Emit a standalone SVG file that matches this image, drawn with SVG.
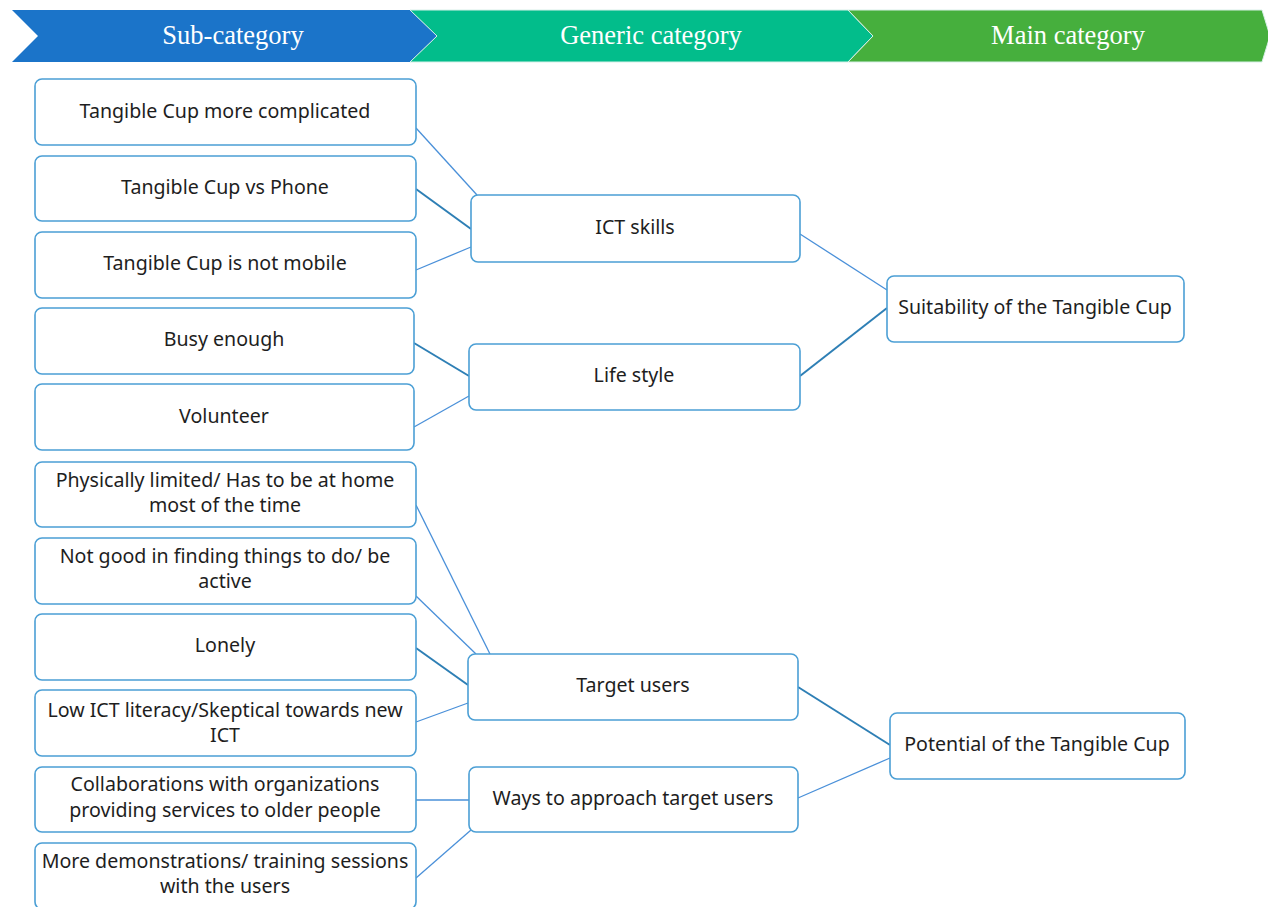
<svg xmlns="http://www.w3.org/2000/svg" width="1268" height="907" viewBox="0 0 1268 907">
<style>
.hdr{font-family:"Liberation Serif","DejaVu Serif",serif;font-size:26.5px;fill:#ffffff;text-anchor:middle}
.box{fill:#ffffff;stroke:#4b9fd5;stroke-width:1.6}
.t{font-family:"Noto Sans","Open Sans",sans-serif;font-size:19.6px;fill:#1e1e1e;text-anchor:middle}
.c{stroke:#4a90d9;stroke-width:1.3;fill:none}
.d{stroke:#2e7fb5;stroke-width:2;fill:none}
</style>
<rect width="1268" height="907" fill="#ffffff"/>
<g id="header">
<polygon points="12,10 410,10 437,36 410,62 12,62 38,36" fill="#1b74c9"/>
<polygon points="410,10 848,10 873,36 848,62 410,62 437,36" fill="#02bd8b" stroke="#d8efe8" stroke-width="1"/>
<polygon points="848,10 1262,10 1270,36 1262,62 848,62 873,36" fill="#46af3d" stroke="#d8efe8" stroke-width="1"/>
<text class="hdr" x="233" y="44">Sub-category</text>
<text class="hdr" x="651" y="44">Generic category</text>
<text class="hdr" x="1068" y="44">Main category</text>
</g>
<g id="connectors">
<line class="c" x1="416" y1="128" x2="477" y2="195"/>
<line class="d" x1="416" y1="189" x2="471" y2="229"/>
<line class="c" x1="416" y1="270" x2="471" y2="247"/>
<line class="d" x1="414" y1="343" x2="469" y2="376"/>
<line class="c" x1="414" y1="427" x2="469" y2="396"/>
<line class="c" x1="800" y1="234" x2="887" y2="290"/>
<line class="d" x1="800" y1="376" x2="887" y2="308"/>
<line class="c" x1="416" y1="505" x2="490" y2="654"/>
<line class="c" x1="416" y1="596" x2="476" y2="654"/>
<line class="d" x1="416" y1="648" x2="468" y2="685"/>
<line class="c" x1="416" y1="722" x2="468" y2="703"/>
<line class="d" x1="798" y1="687" x2="890" y2="745"/>
<line class="c" x1="798" y1="798" x2="890" y2="758"/>
<line class="c" x1="416" y1="800" x2="469" y2="800"/>
<line class="c" x1="416" y1="878" x2="471" y2="830"/>
</g>
<g id="s1"><rect class="box" x="35" y="79" width="381" height="66" rx="7"/><text class="t" x="225" y="118">Tangible Cup more complicated</text></g>
<g id="s2"><rect class="box" x="35" y="156" width="381" height="65" rx="7"/><text class="t" x="225" y="194">Tangible Cup vs Phone</text></g>
<g id="s3"><rect class="box" x="35" y="232" width="381" height="66" rx="7"/><text class="t" x="225" y="270">Tangible Cup is not mobile</text></g>
<g id="s4"><rect class="box" x="35" y="308" width="379" height="66" rx="7"/><text class="t" x="224" y="346">Busy enough</text></g>
<g id="s5"><rect class="box" x="35" y="384" width="379" height="66" rx="7"/><text class="t" x="224" y="423">Volunteer</text></g>
<g id="s6"><rect class="box" x="35" y="462" width="381" height="65" rx="7"/><text class="t" x="225" y="487">Physically limited/ Has to be at home</text><text class="t" x="225" y="512">most of the time</text></g>
<g id="s7"><rect class="box" x="35" y="538" width="381" height="66" rx="7"/><text class="t" x="225" y="563">Not good in finding things to do/ be</text><text class="t" x="225" y="588">active</text></g>
<g id="s8"><rect class="box" x="35" y="614" width="381" height="66" rx="7"/><text class="t" x="225" y="652">Lonely</text></g>
<g id="s9"><rect class="box" x="35" y="690" width="381" height="66" rx="7"/><text class="t" x="225" y="717">Low ICT literacy/Skeptical towards new</text><text class="t" x="225" y="742">ICT</text></g>
<g id="s10"><rect class="box" x="35" y="767" width="381" height="65" rx="7"/><text class="t" x="225" y="791">Collaborations with organizations</text><text class="t" x="225" y="817">providing services to older people</text></g>
<g id="s11"><rect class="box" x="35" y="843" width="381" height="66" rx="7"/><text class="t" x="225" y="868">More demonstrations/ training sessions</text><text class="t" x="225" y="893">with the users</text></g>
<g id="g1"><rect class="box" x="471" y="195" width="329" height="67" rx="7"/><text class="t" x="635" y="234">ICT skills</text></g>
<g id="g2"><rect class="box" x="469" y="344" width="331" height="66" rx="7"/><text class="t" x="634" y="382">Life style</text></g>
<g id="g3"><rect class="box" x="468" y="654" width="330" height="66" rx="7"/><text class="t" x="633" y="692">Target users</text></g>
<g id="g4"><rect class="box" x="469" y="767" width="329" height="65" rx="7"/><text class="t" x="633" y="805">Ways to approach target users</text></g>
<g id="m1"><rect class="box" x="887" y="276" width="297" height="66" rx="7"/><text class="t" x="1035" y="314">Suitability of the Tangible Cup</text></g>
<g id="m2"><rect class="box" x="890" y="713" width="295" height="66" rx="7"/><text class="t" x="1037" y="751">Potential of the Tangible Cup</text></g>
</svg>
